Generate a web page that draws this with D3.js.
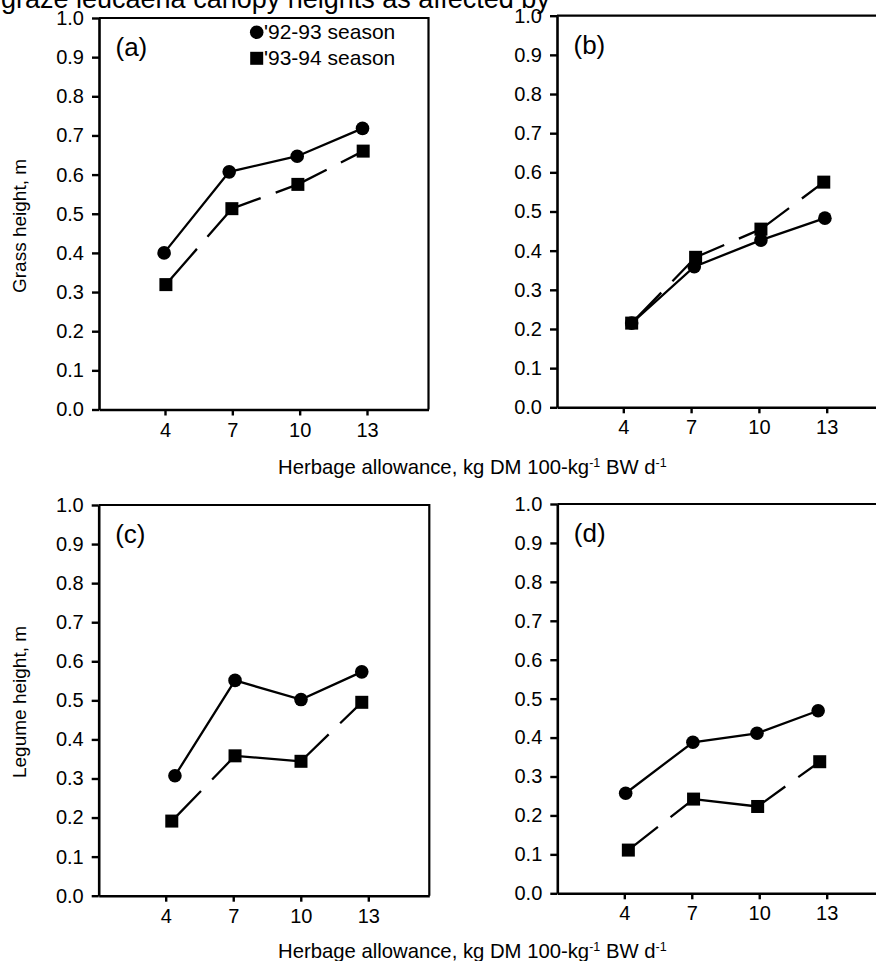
<!DOCTYPE html>
<html>
<head>
<meta charset="utf-8">
<script src="https://cdn.jsdelivr.net/npm/d3@7/dist/d3.min.js"></script>
<style>
  body { margin: 0; background: #fff; }
  svg { display: block; }
  text { font-family: "Liberation Sans", Arial, Helvetica, sans-serif; fill: #000; }
</style>
</head>
<body>
<svg id="chart" width="876" height="961"></svg>
<script>
// ---- data -------------------------------------------------------------
const xTicks = [4, 7, 10, 13];
const yTicks = [0, 0.1, 0.2, 0.3, 0.4, 0.5, 0.6, 0.7, 0.8, 0.9, 1.0];
const seriesNames = ["'92-93 season", "'93-94 season"];
const panelLetters = ["(a)", "(b)", "(c)", "(d)"];
const yTitles = ["Grass height, m", "Legume height, m"];
const xTitle = "Herbage allowance, kg DM 100-kg";
const captionText = "graze leucaena canopy heights as affected by";

// herbage allowance (x) and canopy height in m (y) for each panel and season
const a92x = [3.96, 6.86, 9.89, 12.80], a92y = [0.400, 0.607, 0.647, 0.718];
const a93x = [4.04, 6.98, 9.92, 12.83], a93y = [0.319, 0.513, 0.575, 0.660];
const b92x = [4.37, 7.14, 10.09, 12.92], b92y = [0.215, 0.359, 0.427, 0.483];
const b93x = [4.37, 7.20, 10.09, 12.87], b93y = [0.215, 0.383, 0.455, 0.575];
const c92x = [4.41, 7.08, 10.01, 12.71], c92y = [0.307, 0.551, 0.502, 0.573];
const c93x = [4.27, 7.08, 10.01, 12.71], c93y = [0.191, 0.358, 0.344, 0.495];
const d92x = [4.06, 7.05, 9.90, 12.62], d92y = [0.257, 0.388, 0.411, 0.469];
const d93x = [4.18, 7.08, 9.93, 12.69], d93y = [0.111, 0.242, 0.223, 0.338];

// ---- layout -----------------------------------------------------------
const panels = [
  { letter: panelLetters[0], s92: [a92x, a92y], s93: [a93x, a93y],
    left: 99, right: 428.5, top: 18, bottom: 409.5, x4: 165, x13: 367, yTitle: yTitles[0], yTitleY: 226, legend: true },
  { letter: panelLetters[1], s92: [b92x, b92y], s93: [b93x, b93y],
    left: 557, right: 892, top: 15.7, bottom: 407.3, x4: 623.3, x13: 826.7 },
  { letter: panelLetters[2], s92: [c92x, c92y], s93: [c93x, c93y],
    left: 98.7, right: 429.3, top: 505, bottom: 895.7, x4: 165.7, x13: 368.3, yTitle: yTitles[1], yTitleY: 702 },
  { letter: panelLetters[3], s92: [d92x, d92y], s93: [d93x, d93y],
    left: 557.3, right: 892, top: 504, bottom: 893.3, x4: 624.3, x13: 826.7 }
];

const svg = d3.select("#chart");

// partial caption line running off the top edge
svg.append("text")
  .attr("x", 1).attr("y", 8)
  .attr("font-size", 27)
  .text(captionText);

const zip = (xs, ys) => xs.map((v, i) => [v, ys[i]]);

panels.forEach(p => {
  const g = svg.append("g");

  const x = d3.scaleLinear().domain([4, 13]).range([p.x4, p.x13]);
  x.domain([x.invert(p.left), x.invert(p.right)]).range([p.left, p.right]);
  const y = d3.scaleLinear().domain([0, 1]).range([p.bottom, p.top]);

  // top and right frame lines
  g.append("path")
    .attr("d", `M${p.left},${p.top}H${p.right}V${p.bottom}`)
    .attr("fill", "none").attr("stroke", "#000").attr("stroke-width", 2.2);

  const yAxis = g.append("g")
    .attr("transform", `translate(${p.left},0)`)
    .call(d3.axisLeft(y).tickValues(yTicks).tickFormat(d3.format(".1f"))
      .tickSize(7).tickSizeOuter(0).tickPadding(8));
  const xAxis = g.append("g")
    .attr("transform", `translate(0,${p.bottom})`)
    .call(d3.axisBottom(x).tickValues(xTicks).tickFormat(d3.format("d"))
      .tickSize(6).tickSizeOuter(0).tickPadding(7));

  [yAxis, xAxis].forEach(ax => {
    ax.attr("font-family", null).attr("font-size", null);
    ax.select(".domain").attr("stroke", "#000").attr("stroke-width", 2.6);
    ax.selectAll(".tick line").attr("stroke", "#000").attr("stroke-width", 2.4);
    ax.selectAll(".tick text").attr("font-size", 20).attr("fill", "#000");
  });

  // panel letter
  g.append("text")
    .attr("x", p.left + 16.5).attr("y", p.top + 38)
    .attr("font-size", 26)
    .text(p.letter);

  if (p.yTitle) {
    g.append("text")
      .attr("transform", `translate(26,${p.yTitleY}) rotate(-90)`)
      .attr("text-anchor", "middle")
      .attr("font-size", 19)
      .text(p.yTitle);
  }

  const pts92 = zip(p.s92[0], p.s92[1]).map(d => [x(d[0]), y(d[1])]);
  const pts93 = zip(p.s93[0], p.s93[1]).map(d => [x(d[0]), y(d[1])]);

  // '93-94 season: long-dashed, one break in each longer segment
  d3.pairs(pts93).forEach(([a, b]) => {
    const len = Math.hypot(b[0] - a[0], b[1] - a[1]);
    g.append("line")
      .attr("x1", a[0]).attr("y1", a[1]).attr("x2", b[0]).attr("y2", b[1])
      .attr("stroke", "#000").attr("stroke-width", 2.3)
      .attr("stroke-dasharray", len > 68 ? `${len * 0.55 - 8} 16 ${len}` : null);
  });

  // '92-93 season: solid line
  g.append("path")
    .attr("d", d3.line()(pts92))
    .attr("fill", "none").attr("stroke", "#000").attr("stroke-width", 2.3);

  g.selectAll("rect.m93").data(pts93).join("rect")
    .attr("class", "m93")
    .attr("x", d => d[0] - 6.5).attr("y", d => d[1] - 6.5)
    .attr("width", 13).attr("height", 13).attr("fill", "#000");

  g.selectAll("circle.m92").data(pts92).join("circle")
    .attr("class", "m92")
    .attr("cx", d => d[0]).attr("cy", d => d[1]).attr("r", 6.8).attr("fill", "#000");

  if (p.legend) {
    const lg = g.append("g");
    lg.append("circle").attr("cx", 256.7).attr("cy", 32.3).attr("r", 6.8).attr("fill", "#000");
    lg.append("rect").attr("x", 250.2).attr("y", 51.8).attr("width", 13).attr("height", 13).attr("fill", "#000");
    lg.append("text").attr("x", 264).attr("y", 39).attr("font-size", 21).text(seriesNames[0]);
    lg.append("text").attr("x", 264).attr("y", 65).attr("font-size", 21).text(seriesNames[1]);
  }
});

// shared x-axis titles below each row
[474, 958].forEach(by => {
  const t = svg.append("text").attr("x", 278).attr("y", by).attr("font-size", 20.3);
  t.append("tspan").text(xTitle);
  t.append("tspan").attr("font-size", 12.5).attr("dy", -7.5).text("-1");
  t.append("tspan").attr("dy", 7.5).text(" BW d");
  t.append("tspan").attr("font-size", 12.5).attr("dy", -7.5).text("-1");
});
</script>
</body>
</html>
